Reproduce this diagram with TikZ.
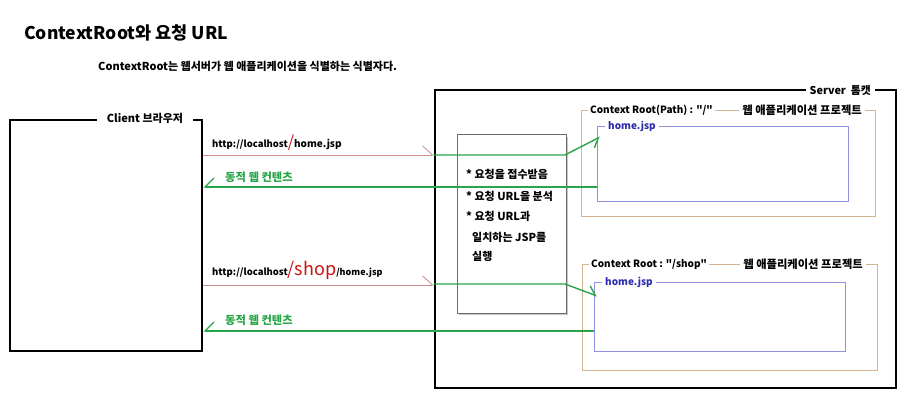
\documentclass[tikz,border=0pt]{standalone}
\usepackage{fontspec}
\setmainfont{Noto Sans CJK KR}[Ligatures=TeXOff]
\usetikzlibrary{arrows.meta}
\definecolor{redline}{RGB}{205,140,140}
\definecolor{greenc}{RGB}{40,165,70}
\definecolor{tanc}{RGB}{215,178,145}
\definecolor{bluebox}{RGB}{145,145,225}
\definecolor{bluetext}{RGB}{45,45,175}
\definecolor{urlred}{RGB}{200,20,20}
\definecolor{procgray}{RGB}{110,110,110}
\begin{document}
\begin{tikzpicture}[x=1pt,y=-1pt,
  box/.style={draw,rectangle,inner sep=0pt,fill=none},
  thickbox/.style={box,line width=2.6pt,black},
  ctxbox/.style={box,draw=tanc,line width=0.9pt},
  jspbox/.style={box,draw=bluebox,line width=0.9pt},
  procbox/.style={box,draw=procgray,line width=1pt},
  lbl/.style={font=\bfseries\fontsize{10}{12}\selectfont,inner sep=0pt,fill=white,text=black},
  krlbl/.style={lbl,font=\bfseries\fontsize{11.3}{13}\selectfont},
  jsplbl/.style={lbl,text=bluetext,font=\bfseries\fontsize{10}{12}\selectfont},
  greenlbl/.style={font=\bfseries\fontsize{11.3}{13}\selectfont,text=greenc,inner sep=0pt},
  urllbl/.style={font=\bfseries\fontsize{9.5}{11}\selectfont,inner sep=0pt,anchor=base west},
  proclbl/.style={font=\bfseries\fontsize{11}{12}\selectfont,inner sep=0pt,anchor=base west},
  reqline/.style={draw=redline,line width=0.8pt,-{Straight Barb[harpoon,length=10pt,width=18pt]}},
  resline/.style={draw=greenc,line width=1.4pt,-{Straight Barb[harpoon,swap,length=9pt,width=18pt]}},
  fwdline/.style={draw=greenc,line width=1.4pt}
]
\useasboundingbox (0,0) rectangle (910,409);
\fill[white] (0,0) rectangle (910,409);

% title
\node[anchor=west,inner sep=0pt,font=\bfseries\fontsize{17.5}{20}\selectfont] (title) at (24,33) {ContextRoot와 요청 URL};
\node[anchor=west,inner sep=0pt,font=\bfseries\fontsize{11}{13}\selectfont] (sub) at (98,66) {ContextRoot는 웹서버가 웹 애플리케이션을 식별하는 식별자다.};

% boxes
\node[thickbox,minimum width=192pt,minimum height=231pt] (client) at (106,235.5) {};
\node[thickbox,minimum width=461pt,minimum height=298pt] (server) at (665.5,239) {};
\fill[gray!45] (459,137) rectangle (568,315);
\node[procbox,fill=white,minimum width=109pt,minimum height=178pt] (proc) at (511.5,224) {};
\node[ctxbox,minimum width=294pt,minimum height=106pt] (ctx1) at (728,163) {};
\node[jspbox,minimum width=251pt,minimum height=75pt] (jsp1) at (722.5,163.5) {};
\node[ctxbox,minimum width=295pt,minimum height=106pt] (ctx2) at (729.5,317) {};
\node[jspbox,minimum width=251pt,minimum height=69pt] (jsp2) at (719.5,316.5) {};

% box labels
\node[krlbl,font=\bfseries\fontsize{11}{13}\selectfont,inner xsep=10pt,inner ysep=2pt] (clientlbl) at (145,118) {Client 브라우저};
\node[krlbl,font=\bfseries\fontsize{10.8}{13}\selectfont,anchor=east,inner xsep=4pt,inner ysep=2pt] (serverlbl) at (875,90) {Server~~톰캣};
\node[lbl,anchor=west,inner xsep=2pt,inner ysep=2pt] (ctx1a) at (588,110) {Context Root(Path) : "/"};
\node[krlbl,anchor=east,inner xsep=3pt,inner ysep=2pt] (ctx1b) at (865,110) {웹 애플리케이션 프로젝트};
\node[lbl,anchor=west,inner xsep=2pt,inner ysep=2pt] (ctx2a) at (589,264) {Context Root : "/shop"};
\node[krlbl,anchor=east,inner xsep=3pt,inner ysep=2pt] (ctx2b) at (866,264) {웹 애플리케이션 프로젝트};
\node[jsplbl,anchor=west,inner xsep=3pt,inner ysep=2pt] (jsp1lbl) at (605,126) {home.jsp};
\node[jsplbl,anchor=west,inner xsep=3pt,inner ysep=2pt] (jsp2lbl) at (602,282) {home.jsp};

% process text
\node[proclbl] (p1) at (466,178) {* 요청을 접수받음};
\node[proclbl] (p2) at (466,200) {* 요청 URL을 분석};
\node[proclbl] (p3) at (466,220.5) {* 요청 URL과};
\node[proclbl] (p4) at (472,241) {일치하는 JSP를};
\node[proclbl] (p5) at (472,260.5) {실행};

% URL labels
\node[urllbl] (url1) at (212,147) {http://localhost{\color{urlred}\mdseries\fontsize{16}{16}\selectfont/}{\fontsize{10}{11}\selectfont home.jsp}};
\node[urllbl] (url2) at (212,275) {http://localhost{\color{urlred}\mdseries\fontsize{18}{18}\selectfont/shop}{\fontsize{9}{11}\selectfont/home.jsp}};
\node[greenlbl,anchor=west] (res1) at (225,177) {동적 웹 컨텐츠};
\node[greenlbl,anchor=west] (res2) at (225,320) {동적 웹 컨텐츠};

% connectors
\coordinate (bend1) at (565,155);
\coordinate (tip1) at (600,137);
\coordinate (bend2) at (565,284);
\coordinate (tip2) at (597,296);
\draw[reqline] (client.east |- 0,155) -- (server.west |- 0,155);
\draw[fwdline,-{Straight Barb[harpoon,swap,length=8pt,width=14pt]}] (server.west |- 0,155) -- (bend1) -- (tip1);
\draw[resline] (jsp1.west |- 0,187) -- (client.east |- 0,187);
\draw[reqline] (client.east |- 0,285) -- (server.west |- 0,285);
\draw[fwdline,-{Straight Barb[harpoon,length=8pt,width=14pt]}] (server.west |- 0,284) -- (bend2) -- (tip2);
\draw[resline] (jsp2.west |- 0,331) -- (client.east |- 0,331);
\end{tikzpicture}
\end{document}
